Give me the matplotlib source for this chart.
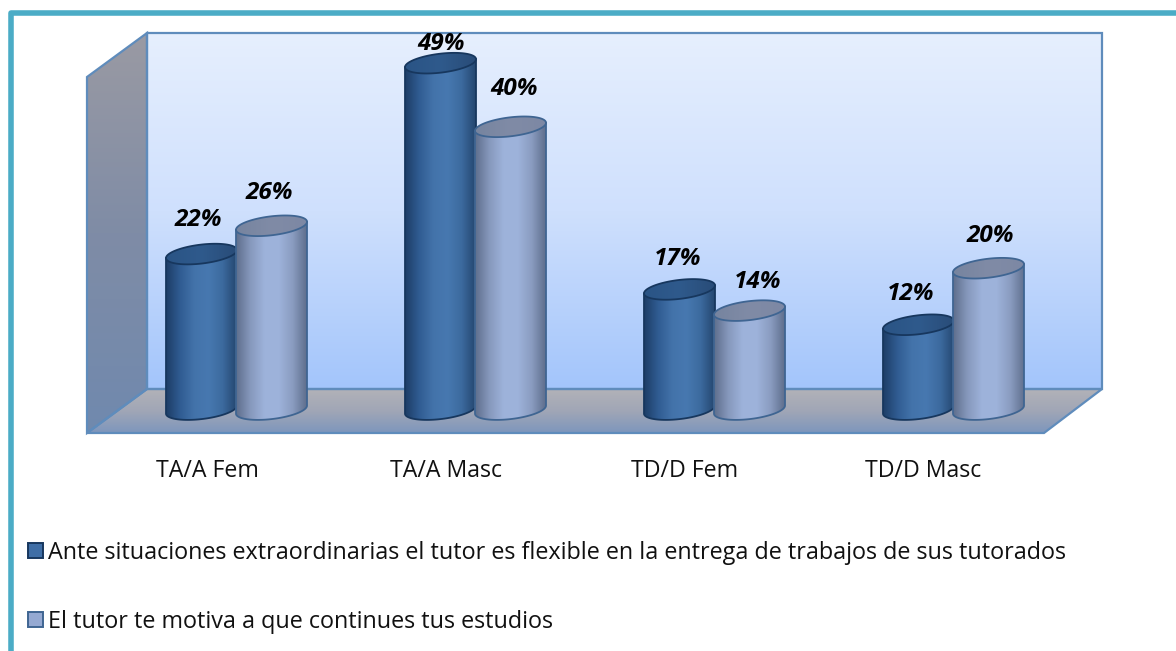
"""Cylinder chart of tutor survey answers, by group."""

import matplotlib

matplotlib.use("Agg")

import matplotlib.pyplot as plt
import numpy as np
from matplotlib.colors import LinearSegmentedColormap
from matplotlib.patches import Polygon, Rectangle

CATEGORIES = ["TA/A Fem", "TA/A Masc", "TD/D Fem", "TD/D Masc"]
SERIES_NAMES = [
    "Ante situaciones extraordinarias el tutor es flexible en la entrega de trabajos de sus tutorados",
    "El tutor te motiva a que continues tus estudios",
]
FLEXIBLE = [22, 49, 17, 12]
MOTIVA = [26, 40, 14, 20]

# label nudges from the top of each cylinder, in pixels
FLEXIBLE_NUDGE = [(-3, 34), (1, 19), (-2, 30), (-8, 31)]
MOTIVA_NUDGE = [(-2, 33), (4, 38), (8, 29), (2, 32)]

WIDTH, HEIGHT = 1176, 651
FONT = "Open Sans"

# pixel scales of the value axes
PX_PER_CAT = 239.0
PX_PER_PCT = 7.07
X_ZERO = 236.5
Y_ZERO = 409.6

DARK = {
    "body": ["#1d3d66", "#305c92", "#4373aa", "#4778b0", "#3c6a9e", "#24466f"],
    "top": ["#2a5485", "#2f5a8c", "#294c78"],
    "edge": "#17375e",
}
LIGHT = {
    "body": ["#5e6e8c", "#8698bc", "#9db2da", "#9eb3db", "#8a9cc0", "#5e6e8c"],
    "top": ["#76849f", "#808ba6", "#7d88a4"],
    "edge": "#3f6592",
}
WALL_EDGE = "#5f8cbc"


def gradient(axis, colors, extent, clip, horizontal=True, zorder=1):
    """Paint a linear gradient clipped to a polygon."""
    cmap = LinearSegmentedColormap.from_list("grad", colors)
    ramp = np.linspace(0, 1, 256)
    ramp = ramp[None, :] if horizontal else ramp[:, None]
    image = axis.imshow(ramp, cmap=cmap, extent=extent, aspect="auto", origin="upper",
                        zorder=zorder, interpolation="bilinear")
    patch = Polygon(clip, closed=True, transform=axis.transData, facecolor="none",
                    edgecolor="none")
    axis.add_patch(patch)
    image.set_clip_path(patch)


def draw_room(axis):
    back = [(147, 33), (1102, 33), (1102, 389), (147, 389)]
    side = [(87, 77), (147, 33), (147, 389), (87, 433)]
    floor = [(87, 433), (147, 389), (1102, 389), (1044, 433)]
    gradient(axis, ["#e6effe", "#cfe0fd", "#a3c5fb"], (147, 1102, 389, 33), back, horizontal=False)
    gradient(axis, ["#9a9aa3", "#7f8ca6", "#7089ae"], (87, 147, 433, 33), side, horizontal=False)
    gradient(axis, ["#b2b2b8", "#a0a6b6", "#7d96bd"], (87, 1102, 433, 389), floor, horizontal=False)
    for shape in (back, side, floor):
        axis.add_patch(Polygon(shape, closed=True, facecolor="none", edgecolor=WALL_EDGE,
                               linewidth=1.6, zorder=2))


def draw_cylinder(axis, center, value, style, half_width, zorder):
    """Draw one cylinder in data units, from the floor up to value."""
    a = half_width
    b = 9.5 / PX_PER_PCT
    tilt = 4 / PX_PER_PCT
    t = np.linspace(0, 2 * np.pi, 121)
    ex = center + a * np.cos(t)
    lower = t[60:]  # lower half of the ellipse, left to right
    bottom_x = center + a * np.cos(lower)
    bottom_y = b * np.sin(lower) + tilt * np.cos(lower)
    top_left_y = value - tilt
    top_right_y = value + tilt
    body = np.column_stack([
        np.r_[center - a, bottom_x, center + a],
        np.r_[top_left_y, bottom_y, top_right_y],
    ])
    gradient(axis, style["body"], (center - a, center + a, -b - tilt, value + tilt), body,
             zorder=zorder)
    axis.add_patch(Polygon(body, closed=True, facecolor="none", edgecolor=style["edge"],
                           linewidth=1.3, zorder=zorder + 0.1))
    ey = value + b * np.sin(t) + tilt * np.cos(t)
    cap = np.column_stack([ex, ey])
    gradient(axis, style["top"], (center - a, center + a, value - b - tilt, value + b + tilt),
             cap, zorder=zorder + 0.2)
    axis.add_patch(Polygon(cap, closed=True, facecolor="none", edgecolor=style["edge"],
                           linewidth=1.3, zorder=zorder + 0.3))


figure = plt.figure(figsize=(WIDTH / 100, HEIGHT / 100), dpi=100)

# pixel axes for the frame, the room and the text outside the plot
room = figure.add_axes((0, 0, 1, 1))
room.set_axis_off()
draw_room(room)
room.plot([11, 11, 1176], [651, 12.7, 12.7], color="#4bacc6", linewidth=4, solid_joinstyle="round",
          zorder=3)
room.set_xlim(0, WIDTH)
room.set_ylim(HEIGHT, 0)

for index, name in enumerate(CATEGORIES):
    room.text(207.5 + 238.7 * index, 471, name, ha="center", va="center", fontsize=16.7,
              family=FONT, color="#111111")

for name, y_pos, style, fill in zip(SERIES_NAMES, (553, 622), (DARK, LIGHT), ("#3f6ea6", "#95a9d2")):
    room.add_patch(Rectangle((27.5, y_pos - 10.5), 15, 15, facecolor=fill, edgecolor=style["edge"],
                             linewidth=1.4, zorder=3))
    room.text(48, y_pos, name, ha="left", va="center", fontsize=16.85, family=FONT, color="#111111")

# value axes, on top of the room
axis = figure.add_axes((0, 0, 1, 1))
axis.patch.set_alpha(0)
axis.set_axis_off()

half_width = 35.5 / PX_PER_CAT
offset = 35 / PX_PER_CAT
for index in range(len(CATEGORIES)):
    left = index - offset
    right = index + offset
    draw_cylinder(axis, left, FLEXIBLE[index], DARK, half_width, 4)
    draw_cylinder(axis, right, MOTIVA[index], LIGHT, half_width, 5)
    for x_pos, value, nudge in ((left, FLEXIBLE[index], FLEXIBLE_NUDGE[index]),
                                (right, MOTIVA[index], MOTIVA_NUDGE[index])):
        axis.annotate(f"{value}%", (x_pos, value), xytext=(nudge[0] * 0.72, nudge[1] * 0.72),
                      textcoords="offset points", ha="center", va="center", fontsize=17.5,
                      family=FONT, weight="bold", style="italic", color="black", zorder=8)

axis.set_xlim(-X_ZERO / PX_PER_CAT, (WIDTH - X_ZERO) / PX_PER_CAT)
axis.set_ylim((Y_ZERO - HEIGHT) / PX_PER_PCT, Y_ZERO / PX_PER_PCT)

figure.savefig("out.png", dpi=100)
